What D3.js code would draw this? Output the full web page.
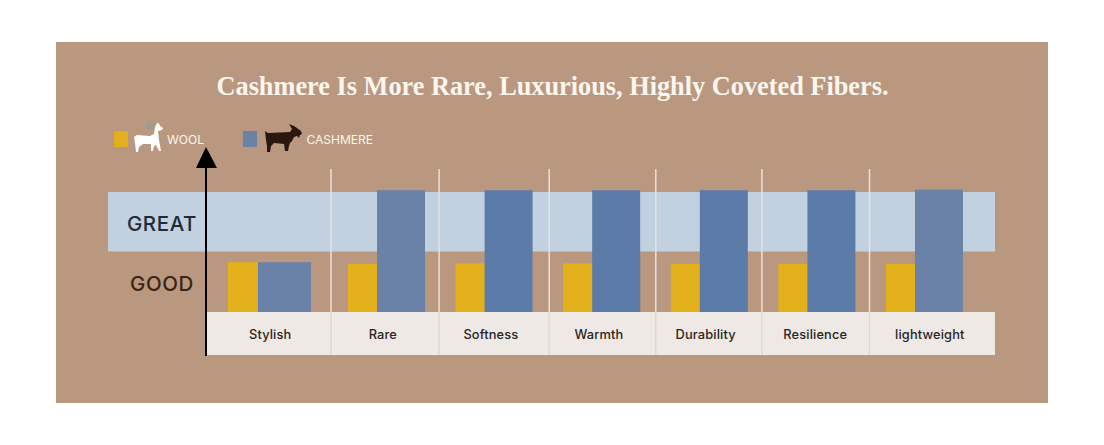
<!DOCTYPE html>
<html><head><meta charset="utf-8">
<script src="https://cdn.jsdelivr.net/npm/d3@7/dist/d3.min.js"></script>
<style>html,body{margin:0;background:#fff;overflow:hidden}svg{display:block}</style>
</head><body><svg width="1104" height="445"></svg>
<script>
const categories=["Stylish","Rare","Softness","Warmth","Durability","Resilience","lightweight"];
const woolValues=[0.83,0.8,0.81,0.81,0.8,0.8,0.8];
const cashmereValues=[0.83,2.03,2.03,2.03,2.03,2.03,2.04];
const levelLabels=["GOOD","GREAT"];
const title="Cashmere Is More Rare, Luxurious, Highly Coveted Fibers.";
const legendLabels=["WOOL","CASHMERE"];

const sans="Inter, 'Open Sans', sans-serif";
const svg=d3.select("svg");
const x=d3.scaleBand().domain(categories).range([223.4,976.6]).padding(0);
const y=d3.scaleLinear().domain([0,2]).range([312,192]);
const yLevel=d3.scaleBand().domain(levelLabels).range([312,192]);

svg.append("rect").attr("x",56).attr("y",42).attr("width",992).attr("height",361).attr("fill","#BA9880");
svg.append("text").attr("x",552.5).attr("y",95).attr("text-anchor","middle").attr("fill","#FBF6EF")
 .style("font","bold 26.3px 'Liberation Serif',serif").text(title);

svg.append("rect").attr("x",108).attr("y",y(2)).attr("width",887).attr("height",y(1)-y(2)-0.5).attr("fill","#C1D1E0");
svg.append("rect").attr("x",207).attr("y",y(0)).attr("width",788).attr("height",43).attr("fill","#EEE9E4");

svg.selectAll(".lvl").data(levelLabels).join("text").attr("class","lvl")
 .attr("x",162).attr("y",d=>yLevel(d)+yLevel.bandwidth()/2+9).attr("text-anchor","middle")
 .attr("fill",(d,i)=>i?"#1F2A36":"#3A2412").style("font","500 20.5px "+sans).style("letter-spacing",".6px").text(d=>d);

const first=i=>i===0;
svg.selectAll(".wool").data(woolValues).join("rect").attr("class","wool")
 .attr("x",(d,i)=>x(categories[i])+(first(i)?4.6:17)).attr("y",d=>y(d))
 .attr("width",(d,i)=>first(i)?30:29.5).attr("height",d=>y(0)-y(d)).attr("fill","#E1B01A");
const cashTone=i=>(i<2||i===6)?"#6A82A8":"#5B7BA8";
svg.selectAll(".cash").data(cashmereValues).join("rect").attr("class","cash")
 .attr("x",(d,i)=>x(categories[i])+(first(i)?34.6:46)).attr("y",d=>y(d))
 .attr("width",(d,i)=>first(i)?53:48).attr("height",d=>y(0)-y(d)).attr("fill",(d,i)=>cashTone(i));

const sepNudge=[0,0,0.5,3,2,0.5,0.5];
const seps=svg.selectAll(".sep").data(categories.slice(1)).join("g").attr("class","sep");
seps.append("line").attr("x1",(d,i)=>x(d)+sepNudge[i+1]).attr("x2",(d,i)=>x(d)+sepNudge[i+1])
 .attr("y1",169).attr("y2",312).attr("stroke","#E6E2DE").attr("stroke-width",1.5);
seps.append("line").attr("x1",(d,i)=>x(d)+sepNudge[i+1]).attr("x2",(d,i)=>x(d)+sepNudge[i+1])
 .attr("y1",312).attr("y2",355).attr("stroke","#DAD5D0").attr("stroke-width",1.2);

const labelNudge=[-7,-2,-1.5,-1,-2,0,7];
svg.selectAll(".cat").data(categories).join("text").attr("class","cat")
 .attr("x",(d,i)=>x(d)+x.bandwidth()/2+labelNudge[i]).attr("y",339).attr("text-anchor","middle").attr("fill","#2A2522")
 .style("font","500 12.8px "+sans).style("letter-spacing",".15px").text(d=>d);

svg.append("line").attr("x1",206).attr("x2",206).attr("y1",165).attr("y2",356).attr("stroke","#000").attr("stroke-width",2);
svg.append("path").attr("d","M206 147L217 168L196 168Z").attr("fill","#000");

// legend
svg.append("rect").attr("x",114).attr("y",131).attr("width",14).attr("height",16).attr("fill","#E1B01A");
svg.append("rect").attr("x",243).attr("y",131).attr("width",14).attr("height",16).attr("fill","#6A82A8");
svg.append("circle").attr("cx",150).attr("cy",125.5).attr("r",4.5).attr("fill","#A39A92");
svg.append("path").attr("fill","#fff").attr("d","M136 152L135 143L134 137L137 135L150 136L154 134L155 127L157 123L159 123.5L160 126L163 128L162 130L158 131L159 140L161 151L159 151L156 145L154 146L153 151L151 151L151 144L143 144L139 147L138 152Z");
svg.append("path").attr("fill","#2A1710").attr("d","M265 131L268 133L290 132L292 129L289 124L294 126L297 128L301 131L302 134L300 135L299 138L297 136L294 137L292 141L290 143L289 146L288 151L285 151L284 144L274 143L271 146L270 152L267 152L267 146L266 140Z");
svg.selectAll(".leg").data(legendLabels).join("text").attr("class","leg")
 .attr("x",(d,i)=>i?306.5:167).attr("y",144).attr("fill","#FBF6EF").style("font","400 12px "+sans).text(d=>d);
</script></body></html>
